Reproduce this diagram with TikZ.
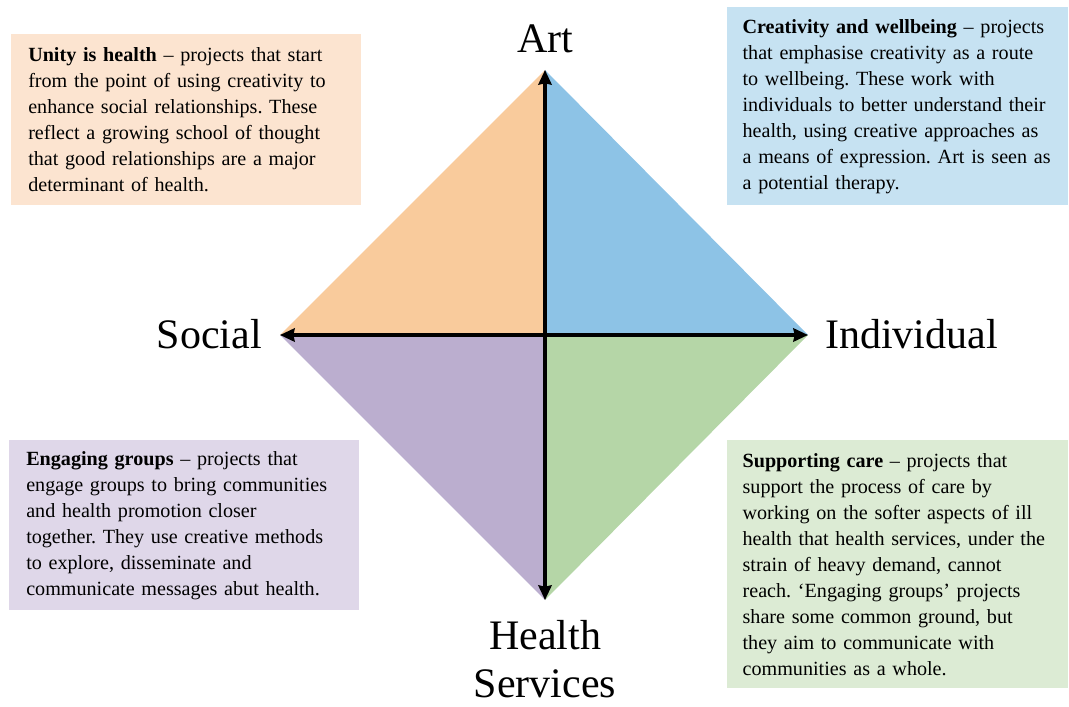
\documentclass[tikz,border=0pt]{standalone}
\usepackage{fontspec}
\setmainfont{Liberation Serif}
\usepackage{tikz}
\usetikzlibrary{arrows.meta}

\definecolor{artsoc}{RGB}{249,203,156}
\definecolor{artind}{RGB}{141,195,230}
\definecolor{socserv}{RGB}{187,174,207}
\definecolor{indserv}{RGB}{181,214,167}
\definecolor{artsocbox}{RGB}{252,228,208}
\definecolor{artindbox}{RGB}{198,226,242}
\definecolor{socservbox}{RGB}{223,215,233}
\definecolor{indservbox}{RGB}{220,235,212}

\frenchspacing
\hyphenpenalty=10000

\begin{document}
\begin{tikzpicture}[x=0.75pt,y=-0.75pt]

		% Define styles
		\tikzstyle{quadbox} = [
		rectangle, anchor=north west, inner ysep=0pt,
		align=left, font=\fontsize{15.1}{19.5}\selectfont]
		\tikzstyle{leftbox} = [quadbox, inner xsep=12.75pt, text width=237pt]
		\tikzstyle{rightbox} = [quadbox, inner xsep=11.5pt, text width=232.75pt]
		\tikzstyle{pole} = [inner sep=0pt, font=\fontsize{31.5}{36}\selectfont]
		\tikzstyle{axis} = [line width=2.3pt, {Stealth[length=11pt,width=10pt,inset=1pt]}-{Stealth[length=11pt,width=10pt,inset=1pt]}]

		\useasboundingbox (0,0) rectangle (1069,706);

		% Diamond corners
		\coordinate (top) at (545,70);
		\coordinate (left) at (280,335);
		\coordinate (right) at (808,335);
		\coordinate (bottom) at (545,600);
		\coordinate (centre) at (545,335);

		% Quadrants
		\fill[artsoc] (centre) -- (left) -- (top) -- cycle;
		\fill[artind] (centre) -- (top) -- (right) -- cycle;
		\fill[socserv] (centre) -- (left) -- (bottom) -- cycle;
		\fill[indserv] (centre) -- (right) -- (bottom) -- cycle;

		% Axes
		\draw [axis] (bottom) -- (top);
		\draw [axis] (left) -- (right);

		% Poles
		\node (art) [pole, anchor=base] at (545,53) {Art};
		\node (social) [pole, anchor=base east] at (262,348) {Social};
		\node (individual) [pole, anchor=base west] at (825,348) {Individual};
		\node (services) [pole, anchor=base, align=center] at (545,697) {Health\\Services};

		% Boxes
		\node (unity) [leftbox, fill=artsocbox, minimum height=128pt] at (11,34) {
			\textbf{Unity is health} -- projects that start\\
			from the point of using creativity to\\
			enhance social relationships. These\\
			reflect a growing school of thought\\
			that good relationships are a major\\
			determinant of health.
		};
		\node (wellbeing) [rightbox, fill=artindbox, minimum height=148.5pt] at (727,7) {
			\textbf{Creativity and wellbeing} -- projects\\
			that emphasise creativity as a route\\
			to wellbeing. These work with\\
			individuals to better understand their\\
			health, using creative approaches as\\
			a means of expression. Art is seen as\\
			a potential therapy.
		};
		\node (groups) [leftbox, fill=socservbox, minimum height=127.5pt] at (9,440) {
			\textbf{Engaging groups} -- projects that\\
			engage groups to bring communities\\
			and health promotion closer\\
			together. They use creative methods\\
			to explore, disseminate and\\
			communicate messages abut health.
		};
		\node (care) [rightbox, fill=indservbox, minimum height=186pt] at (727,440) {
			\textbf{Supporting care} -- projects that\\
			support the process of care by\\
			working on the softer aspects of ill\\
			health that health services, under the\\
			strain of heavy demand, cannot\\
			reach. `Engaging groups' projects\\
			share some common ground, but\\
			they aim to communicate with\\
			communities as a whole.
		};
	\end{tikzpicture}
\end{document}
